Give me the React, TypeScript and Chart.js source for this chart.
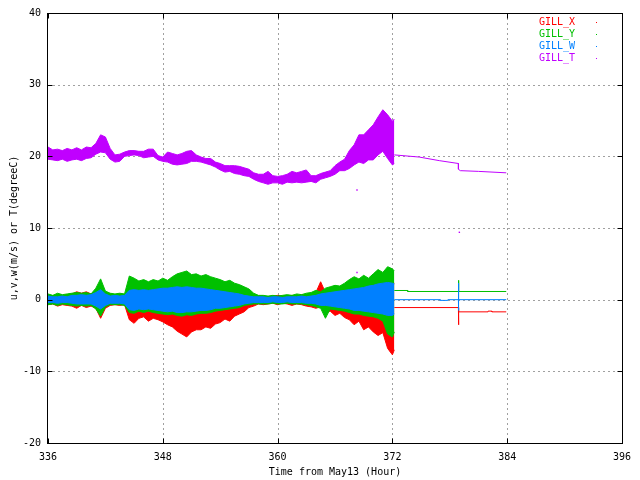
import React, { useEffect, useRef } from "react";
import { Chart, registerables } from "chart.js";

Chart.register(...registerables);

// Time grid (hours from May13)
const HOURS = [
  336, 336.5, 337, 337.5, 338, 338.5, 339, 339.5, 340, 340.5,
  341, 341.5, 342, 342.5, 343, 343.5, 344, 344.5, 345, 345.5,
  346, 346.5, 347, 347.5, 348, 348.5, 349, 349.5, 350, 350.5,
  351, 351.5, 352, 352.5, 353, 353.5, 354, 354.5, 355, 355.5,
  356, 356.5, 357, 357.5, 358, 358.5, 359, 359.5, 360, 360.5,
  361, 361.5, 362, 362.5, 363, 363.5, 364, 364.5, 365, 365.5,
  366, 366.5, 367, 367.5, 368, 368.5, 369, 369.5, 370, 370.5,
  371, 371.5, 372, 372.2,
];

// GILL_X envelope (upper / lower)
const X_HI = [
  0.6, 0.5, 0.7, 0.6, 0.7, 0.8, 1.1, 0.9, 1.1, 0.8,
  1.2, 2.0, 1.0, 0.8, 0.7, 0.8, 0.7, 1.5, 1.5, 1.4,
  1.5, 1.4, 1.5, 1.6, 1.7, 1.7, 1.8, 1.9, 1.8, 1.9,
  1.8, 1.7, 1.7, 1.6, 1.5, 1.4, 1.3, 1.2, 1.1, 1.0,
  0.9, 0.7, 0.6, 0.5, 0.5, 0.5, 0.4, 0.5, 0.6, 0.5,
  0.5, 0.6, 0.5, 0.7, 0.6, 0.8, 1.0, 2.5, 1.0, 1.1,
  1.2, 1.3, 1.4, 1.5, 1.6, 1.7, 1.8, 2.0, 2.1, 2.3,
  2.4, 2.5, 2.4, 2.3,
];
const X_LO = [
  -0.7, -0.6, -0.9, -0.7, -0.8, -0.9, -1.2, -0.8, -1.1, -0.9,
  -1.2, -2.6, -1.2, -0.8, -0.7, -0.8, -0.7, -2.8, -3.3, -2.6,
  -2.4, -3.0, -2.6, -2.8, -3.1, -3.5, -3.8, -4.4, -4.8, -5.2,
  -4.5, -4.2, -4.2, -3.8, -4.0, -3.4, -3.2, -2.7, -3.0, -2.3,
  -2.0, -1.7, -1.1, -0.9, -0.6, -0.7, -0.6, -0.5, -0.7, -0.5,
  -0.6, -0.8, -0.6, -0.7, -0.9, -1.0, -1.2, -1.0, -1.8, -1.6,
  -2.2, -1.9, -2.5, -2.8, -3.5, -3.0, -4.2, -3.8, -4.5, -5.0,
  -4.6, -6.8, -7.7, -7.0,
];

// GILL_Y envelope
const Y_HI = [
  0.8, 0.6, 0.9, 0.7, 0.8, 0.9, 1.0, 0.9, 1.0, 0.8,
  1.6, 2.9, 1.2, 0.9, 0.8, 0.9, 0.8, 3.3, 3.0, 2.6,
  2.8, 2.5, 2.8, 2.6, 3.0, 2.7, 3.2, 3.6, 3.8, 4.0,
  3.5, 3.6, 3.3, 3.5, 3.2, 3.0, 2.8, 2.5, 2.7, 2.3,
  2.1, 1.8, 1.5, 0.9, 0.6, 0.6, 0.5, 0.6, 0.5, 0.6,
  0.7, 0.6, 0.8, 0.7, 0.9, 1.0, 1.3, 1.1, 1.6, 1.8,
  2.0, 1.9, 2.3, 2.8, 3.2, 2.9, 3.4, 3.0, 3.6, 4.2,
  3.8, 4.6, 4.3, 4.0,
];
const Y_LO = [
  -0.7, -0.6, -0.8, -0.6, -0.7, -0.8, -0.9, -0.8, -0.9, -0.8,
  -1.3, -2.3, -1.0, -0.7, -0.7, -0.7, -0.8, -1.8, -1.9, -1.6,
  -1.8, -1.6, -1.8, -1.9, -2.0, -2.1, -2.0, -2.2, -2.3, -2.1,
  -2.2, -2.0, -1.9, -1.9, -1.8, -1.6, -1.5, -1.4, -1.3, -1.2,
  -1.1, -0.8, -0.7, -0.6, -0.6, -0.6, -0.6, -0.5, -0.6, -0.6,
  -0.5, -0.6, -0.6, -0.6, -0.7, -0.8, -1.0, -1.2, -2.6, -1.3,
  -1.4, -1.5, -1.6, -1.8, -2.0, -2.0, -2.2, -2.3, -2.4, -2.6,
  -3.0, -4.8, -5.2, -4.5,
];

// GILL_W envelope
const W_HI = [
  0.5, 0.4, 0.4, 0.5, 0.4, 0.6, 0.6, 0.7, 0.6, 0.7,
  1.0, 1.4, 0.8, 0.5, 0.6, 0.5, 0.6, 1.3, 1.4, 1.3,
  1.4, 1.3, 1.4, 1.5, 1.6, 1.6, 1.7, 1.8, 1.7, 1.8,
  1.7, 1.6, 1.6, 1.5, 1.4, 1.3, 1.2, 1.1, 1.0, 0.9,
  0.8, 0.6, 0.5, 0.4, 0.4, 0.4, 0.3, 0.4, 0.4, 0.3,
  0.4, 0.4, 0.4, 0.5, 0.4, 0.5, 0.6, 0.8, 0.9, 1.0,
  1.1, 1.2, 1.3, 1.4, 1.5, 1.6, 1.7, 1.9, 2.0, 2.2,
  2.3, 2.4, 2.3, 2.2,
];
const W_LO = [
  -0.4, -0.4, -0.5, -0.4, -0.4, -0.5, -0.6, -0.6, -0.6, -0.6,
  -0.9, -1.3, -0.8, -0.5, -0.5, -0.5, -0.6, -1.4, -1.5, -1.3,
  -1.4, -1.3, -1.4, -1.5, -1.6, -1.7, -1.6, -1.8, -1.8, -1.7,
  -1.7, -1.6, -1.5, -1.5, -1.4, -1.2, -1.2, -1.1, -1.0, -0.9,
  -0.8, -0.6, -0.5, -0.4, -0.4, -0.4, -0.4, -0.3, -0.4, -0.4,
  -0.3, -0.4, -0.4, -0.4, -0.5, -0.5, -0.6, -0.8, -0.8, -0.9,
  -1.0, -1.1, -1.2, -1.3, -1.5, -1.5, -1.6, -1.7, -1.8, -1.9,
  -2.0, -2.2, -2.2, -2.0,
];

// GILL_T envelope
const T_HI = [
  21.3, 20.9, 21.0, 20.8, 21.1, 20.9, 21.2, 20.9, 21.3, 21.2,
  21.8, 23.0, 22.7, 21.1, 20.2, 20.3, 20.6, 20.8, 20.8, 20.7,
  20.7, 21.0, 21.0, 20.1, 19.9, 20.6, 20.4, 20.2, 20.4, 20.7,
  20.8, 20.2, 19.9, 19.7, 19.7, 19.2, 19.0, 18.7, 18.7, 18.7,
  18.6, 18.4, 18.2, 17.7, 17.5, 17.5, 17.9, 17.3, 17.2, 17.3,
  17.5, 17.9, 17.7, 17.9, 18.1, 17.3, 17.3, 17.6, 17.8, 18.0,
  18.7, 19.2, 19.6, 20.8, 21.6, 23.0, 23.0, 23.7, 24.4, 25.5,
  26.5, 25.8, 24.9, 25.2,
];
const T_LO = [
  19.6, 19.5, 19.4, 19.6, 19.3, 19.5, 19.6, 19.4, 19.7, 19.8,
  20.3, 20.6, 20.5, 19.6, 19.2, 19.3, 20.0, 20.1, 20.2, 20.1,
  19.8, 19.9, 20.0, 19.5, 19.3, 19.2, 18.9, 18.8, 18.9, 19.0,
  19.3, 19.3, 19.2, 19.0, 18.8, 18.5, 18.1, 17.8, 17.9, 17.6,
  17.5, 17.3, 17.2, 16.8, 16.5, 16.3, 16.1, 16.3, 16.3, 16.1,
  16.4, 16.3, 16.4, 16.3, 16.4, 16.5, 16.3, 16.8, 17.0, 17.2,
  17.5, 18.0, 18.0, 18.3, 18.8, 19.2, 19.0, 19.5, 19.5, 20.2,
  20.7, 19.7, 18.8, 19.0,
];

// Sparse records after 372.2 h
const X_TAIL_H = [372.2, 378.9, 378.9, 378.95, 382.0, 382.0, 382.4, 382.4, 383.9];
const X_TAIL_V = [-1.1, -1.1, -3.5, -1.7, -1.7, -1.6, -1.6, -1.7, -1.7];
const Y_TAIL_H = [372.2, 373.6, 373.6, 378.9, 378.9, 378.95, 383.9];
const Y_TAIL_V = [1.28, 1.28, 1.14, 1.14, 2.7, 1.14, 1.14];
const W_TAIL_H = [372.2, 377.0, 377.0, 377.8, 377.8, 378.9, 378.9, 378.9, 378.95, 383.9];
const W_TAIL_V = [0, 0, -0.1, -0.1, 0, 0, 2.3, -1.5, 0, 0];
const T_TAIL_H = [372.2, 374.8, 376.9, 378.9, 378.9, 379.1, 381.0, 383.9];
const T_TAIL_V = [20.2, 19.9, 19.4, 19.0, 18.2, 18.0, 17.9, 17.7];
const T_DOT_H = [368.3, 368.3, 379.0];
const T_DOT_V = [15.3, 3.8, 9.4];

const SERIES_NAMES = ["GILL_X", "GILL_Y", "GILL_W", "GILL_T"];
const SERIES_COLORS = ["#ff0000", "#00c000", "#0080ff", "#c000ff"];

const X_TICKS = [336, 348, 360, 372, 384, 396];
const Y_TICKS = [-20, -10, 0, 10, 20, 30, 40];
const X_TITLE = "Time from May13 (Hour)";
const Y_TITLE = "u,v,w(m/s) or T(degreeC)";

const FONT = '"DejaVu Sans Mono", "Liberation Mono", monospace';

const pts = (xs: number[], ys: number[]) => xs.map((x, i) => ({ x, y: ys[i] }));

const frame = {
  id: "gnuplotFrame",
  beforeDatasetsDraw(chart: any) {
    const { ctx, chartArea: a, scales } = chart;
    ctx.save();
    ctx.strokeStyle = "#a0a0a0";
    ctx.lineWidth = 1;
    ctx.setLineDash([2, 3]);
    X_TICKS.slice(1, -1).forEach((v) => {
      const p = Math.round(scales.x.getPixelForValue(v)) + 0.5;
      ctx.beginPath();
      ctx.moveTo(p, a.top);
      ctx.lineTo(p, a.bottom);
      ctx.stroke();
    });
    Y_TICKS.slice(1, -1).forEach((v) => {
      const p = Math.round(scales.y.getPixelForValue(v)) + 0.5;
      ctx.beginPath();
      ctx.moveTo(a.left, p);
      ctx.lineTo(a.right, p);
      ctx.stroke();
    });
    ctx.restore();
  },
  afterDraw(chart: any) {
    const { ctx, chartArea: a, scales } = chart;
    ctx.save();
    ctx.setLineDash([]);
    ctx.strokeStyle = "#000";
    ctx.lineWidth = 1;
    const L = Math.round(a.left) - 0.5;
    const R = Math.round(a.right) + 0.5;
    const T = Math.round(a.top) + 0.5;
    const B = Math.round(a.bottom) + 0.5;
    ctx.strokeRect(L, T, R - L, B - T);
    const tl = 5;
    ctx.beginPath();
    X_TICKS.forEach((v) => {
      const p = Math.round(scales.x.getPixelForValue(v)) + 0.5;
      ctx.moveTo(p, B);
      ctx.lineTo(p, B - tl);
      ctx.moveTo(p, T);
      ctx.lineTo(p, T + tl);
    });
    Y_TICKS.forEach((v) => {
      const p = Math.round(scales.y.getPixelForValue(v)) + 0.5;
      ctx.moveTo(L, p);
      ctx.lineTo(L + tl, p);
      ctx.moveTo(R, p);
      ctx.lineTo(R - tl, p);
    });
    ctx.stroke();

    // axis titles
    ctx.fillStyle = "#000";
    ctx.font = `10px ${FONT}`;
    ctx.textAlign = "center";
    ctx.textBaseline = "middle";
    ctx.fillText(X_TITLE, (a.left + a.right) / 2, 472);
    ctx.save();
    ctx.translate(14, (a.top + a.bottom) / 2);
    ctx.rotate(-Math.PI / 2);
    ctx.fillText(Y_TITLE, 0, 0);
    ctx.restore();

    // legend
    ctx.textAlign = "left";
    SERIES_NAMES.forEach((name, i) => {
      const y = 22 + i * 12;
      ctx.fillStyle = SERIES_COLORS[i];
      ctx.fillText(name, 539, y);
      ctx.fillRect(596, y, 1, 1);
    });
    ctx.restore();
  },
};

export default function App() {
  const ref = useRef<HTMLCanvasElement | null>(null);

  useEffect(() => {
    if (!ref.current) return;
    const env = [
      { lo: X_LO, hi: X_HI, th: X_TAIL_H, tv: X_TAIL_V, order: 40 },
      { lo: Y_LO, hi: Y_HI, th: Y_TAIL_H, tv: Y_TAIL_V, order: 30 },
      { lo: W_LO, hi: W_HI, th: W_TAIL_H, tv: W_TAIL_V, order: 20 },
      { lo: T_LO, hi: T_HI, th: T_TAIL_H, tv: T_TAIL_V, order: 10 },
    ];
    const datasets: any[] = [];
    env.forEach((e, i) => {
      const c = SERIES_COLORS[i];
      datasets.push({
        label: SERIES_NAMES[i] + " lo",
        data: pts(HOURS, e.lo),
        borderColor: c,
        backgroundColor: c,
        borderWidth: 1,
        pointRadius: 0,
        fill: false,
        order: e.order,
      });
      datasets.push({
        label: SERIES_NAMES[i],
        data: pts(HOURS, e.hi),
        borderColor: c,
        backgroundColor: c,
        borderWidth: 1,
        pointRadius: 0,
        fill: "-1",
        order: e.order,
      });
      datasets.push({
        label: SERIES_NAMES[i] + " tail",
        data: pts(e.th, e.tv),
        borderColor: c,
        backgroundColor: c,
        borderWidth: 1,
        pointRadius: 0,
        fill: false,
        order: e.order,
      });
    });
    datasets.push({
      label: "GILL_T dots",
      data: pts(T_DOT_H, T_DOT_V),
      showLine: false,
      borderColor: SERIES_COLORS[3],
      backgroundColor: SERIES_COLORS[3],
      pointStyle: "rect",
      pointRadius: 1,
      pointBorderWidth: 0,
      order: 10,
    });

    const chart = new Chart(ref.current, {
      type: "line",
      data: { datasets },
      options: {
        animation: false,
        responsive: false,
        devicePixelRatio: 1,
        layout: { padding: { top: 12, right: 18, left: 0, bottom: 0 } },
        elements: { line: { tension: 0 } },
        plugins: {
          legend: { display: false },
          tooltip: { enabled: false },
        },
        scales: {
          x: {
            type: "linear",
            min: 336,
            max: 396,
            afterBuildTicks: (s: any) => {
              s.ticks = X_TICKS.map((v) => ({ value: v }));
            },
            afterFit: (s: any) => {
              s.height = 37;
            },
            grid: { display: false, drawTicks: false },
            border: { display: false },
            ticks: {
              padding: 8,
              color: "#000",
              font: { family: FONT, size: 10 },
              maxRotation: 0,
              autoSkip: false,
              callback: (v: any) => String(v),
            },
          },
          y: {
            type: "linear",
            min: -20,
            max: 40,
            afterBuildTicks: (s: any) => {
              s.ticks = Y_TICKS.map((v) => ({ value: v }));
            },
            afterFit: (s: any) => {
              s.width = 48;
            },
            grid: { display: false, drawTicks: false },
            border: { display: false },
            ticks: {
              padding: 7,
              color: "#000",
              font: { family: FONT, size: 10 },
              autoSkip: false,
              callback: (v: any) => String(v),
            },
          },
        },
      },
      plugins: [frame],
    });
    return () => chart.destroy();
  }, []);

  return (
    <canvas
      ref={ref}
      width={640}
      height={480}
      style={{ position: "absolute", left: 0, top: 0, width: 640, height: 480, background: "#fff" }}
    />
  );
}
